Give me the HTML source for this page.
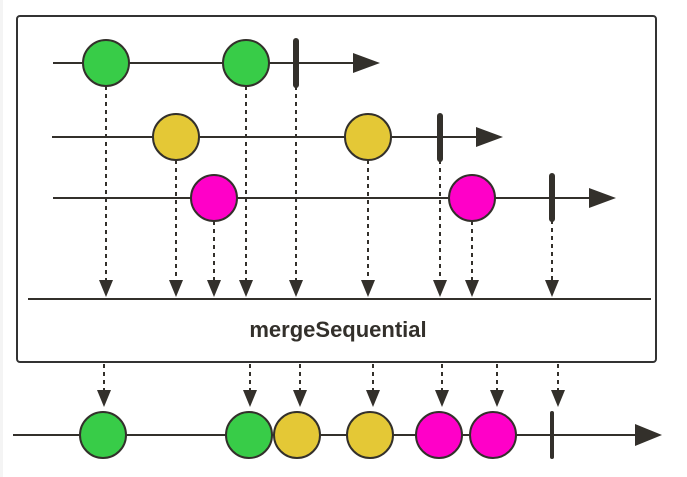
<!DOCTYPE html>
<html><head><style>body{margin:0;background:#fff}svg{display:block}</style></head><body>
<svg width="687" height="477" viewBox="0 0 687 477" xmlns="http://www.w3.org/2000/svg">
<defs>
<marker id="ah" markerWidth="10" markerHeight="10" refX="5" refY="9" orient="auto" markerUnits="userSpaceOnUse"></marker>
</defs>
<rect x="0" y="0" width="3" height="477" fill="#f4f4f4"/>
<rect x="17" y="16" width="639" height="346" rx="3" fill="#fff" stroke="#333" stroke-width="2"/>
<g stroke="#33302b" stroke-width="2" fill="none">
<line x1="53" y1="63" x2="360" y2="63"/>
<line x1="52" y1="137" x2="480" y2="137"/>
<line x1="53" y1="198" x2="592" y2="198"/>
<line x1="28" y1="299" x2="651" y2="299"/>
<line x1="13" y1="435" x2="640" y2="435"/>
</g>
<g fill="#33302b">
<polygon points="353,53 380,63 353,73"/>
<polygon points="476,127 503,137 476,147"/>
<polygon points="589,188 616,198 589,208"/>
<polygon points="635,424 662,435 635,446"/>
</g>
<g stroke="#33302b" stroke-width="6" stroke-linecap="round">
<line x1="296" y1="41" x2="296" y2="85"/>
<line x1="440" y1="116" x2="440" y2="159"/>
<line x1="552" y1="176" x2="552" y2="219"/>
<line x1="552" y1="413" x2="552" y2="457" stroke-width="4"/>
</g>
<g stroke="#33302b" stroke-width="2" stroke-dasharray="4,4">
<line x1="106" y1="86" x2="106" y2="282"/>
<line x1="176" y1="160" x2="176" y2="282"/>
<line x1="214" y1="221" x2="214" y2="282"/>
<line x1="246" y1="86" x2="246" y2="282"/>
<line x1="296" y1="86" x2="296" y2="282"/>
<line x1="368" y1="160" x2="368" y2="282"/>
<line x1="440" y1="160" x2="440" y2="282"/>
<line x1="472" y1="221" x2="472" y2="282"/>
<line x1="552" y1="220" x2="552" y2="282"/>
<g>
<line x1="104" y1="364" x2="104" y2="392"/>
<line x1="250" y1="364" x2="250" y2="392"/>
<line x1="300" y1="364" x2="300" y2="392"/>
<line x1="373" y1="364" x2="373" y2="392"/>
<line x1="442" y1="364" x2="442" y2="392"/>
<line x1="497" y1="364" x2="497" y2="392"/>
<line x1="558" y1="364" x2="558" y2="392"/>
</g>
</g>
<g fill="#33302b">
<polygon points="99,280 113,280 106,297"/>
<polygon points="169,280 183,280 176,297"/>
<polygon points="207,280 221,280 214,297"/>
<polygon points="239,280 253,280 246,297"/>
<polygon points="289,280 303,280 296,297"/>
<polygon points="361,280 375,280 368,297"/>
<polygon points="433,280 447,280 440,297"/>
<polygon points="465,280 479,280 472,297"/>
<polygon points="545,280 559,280 552,297"/>
<polygon points="97,390 111,390 104,407"/>
<polygon points="243,390 257,390 250,407"/>
<polygon points="293,390 307,390 300,407"/>
<polygon points="366,390 380,390 373,407"/>
<polygon points="435,390 449,390 442,407"/>
<polygon points="490,390 504,390 497,407"/>
<polygon points="551,390 565,390 558,407"/>
</g>
<g stroke="#33302b" stroke-width="2">
<circle cx="106" cy="63" r="23" fill="#38cc48"/>
<circle cx="246" cy="63" r="23" fill="#38cc48"/>
<circle cx="176" cy="137" r="23" fill="#e4c836"/>
<circle cx="368" cy="137" r="23" fill="#e4c836"/>
<circle cx="214" cy="198" r="23" fill="#ff00c8"/>
<circle cx="472" cy="198" r="23" fill="#ff00c8"/>
<ellipse cx="103" cy="435" rx="23" ry="23" fill="#38cc48"/>
<ellipse cx="249" cy="435" rx="23" ry="23" fill="#38cc48"/>
<ellipse cx="297" cy="435" rx="23" ry="23" fill="#e4c836"/>
<ellipse cx="370" cy="435" rx="23" ry="23" fill="#e4c836"/>
<ellipse cx="439" cy="435" rx="23" ry="23" fill="#ff00c8"/>
<ellipse cx="493" cy="435" rx="23" ry="23" fill="#ff00c8"/>
</g>
<text x="338" y="337" text-anchor="middle" font-family="Liberation Sans, sans-serif" font-weight="bold" font-size="22" fill="#33302b">mergeSequential</text>
</svg>
</body></html>
